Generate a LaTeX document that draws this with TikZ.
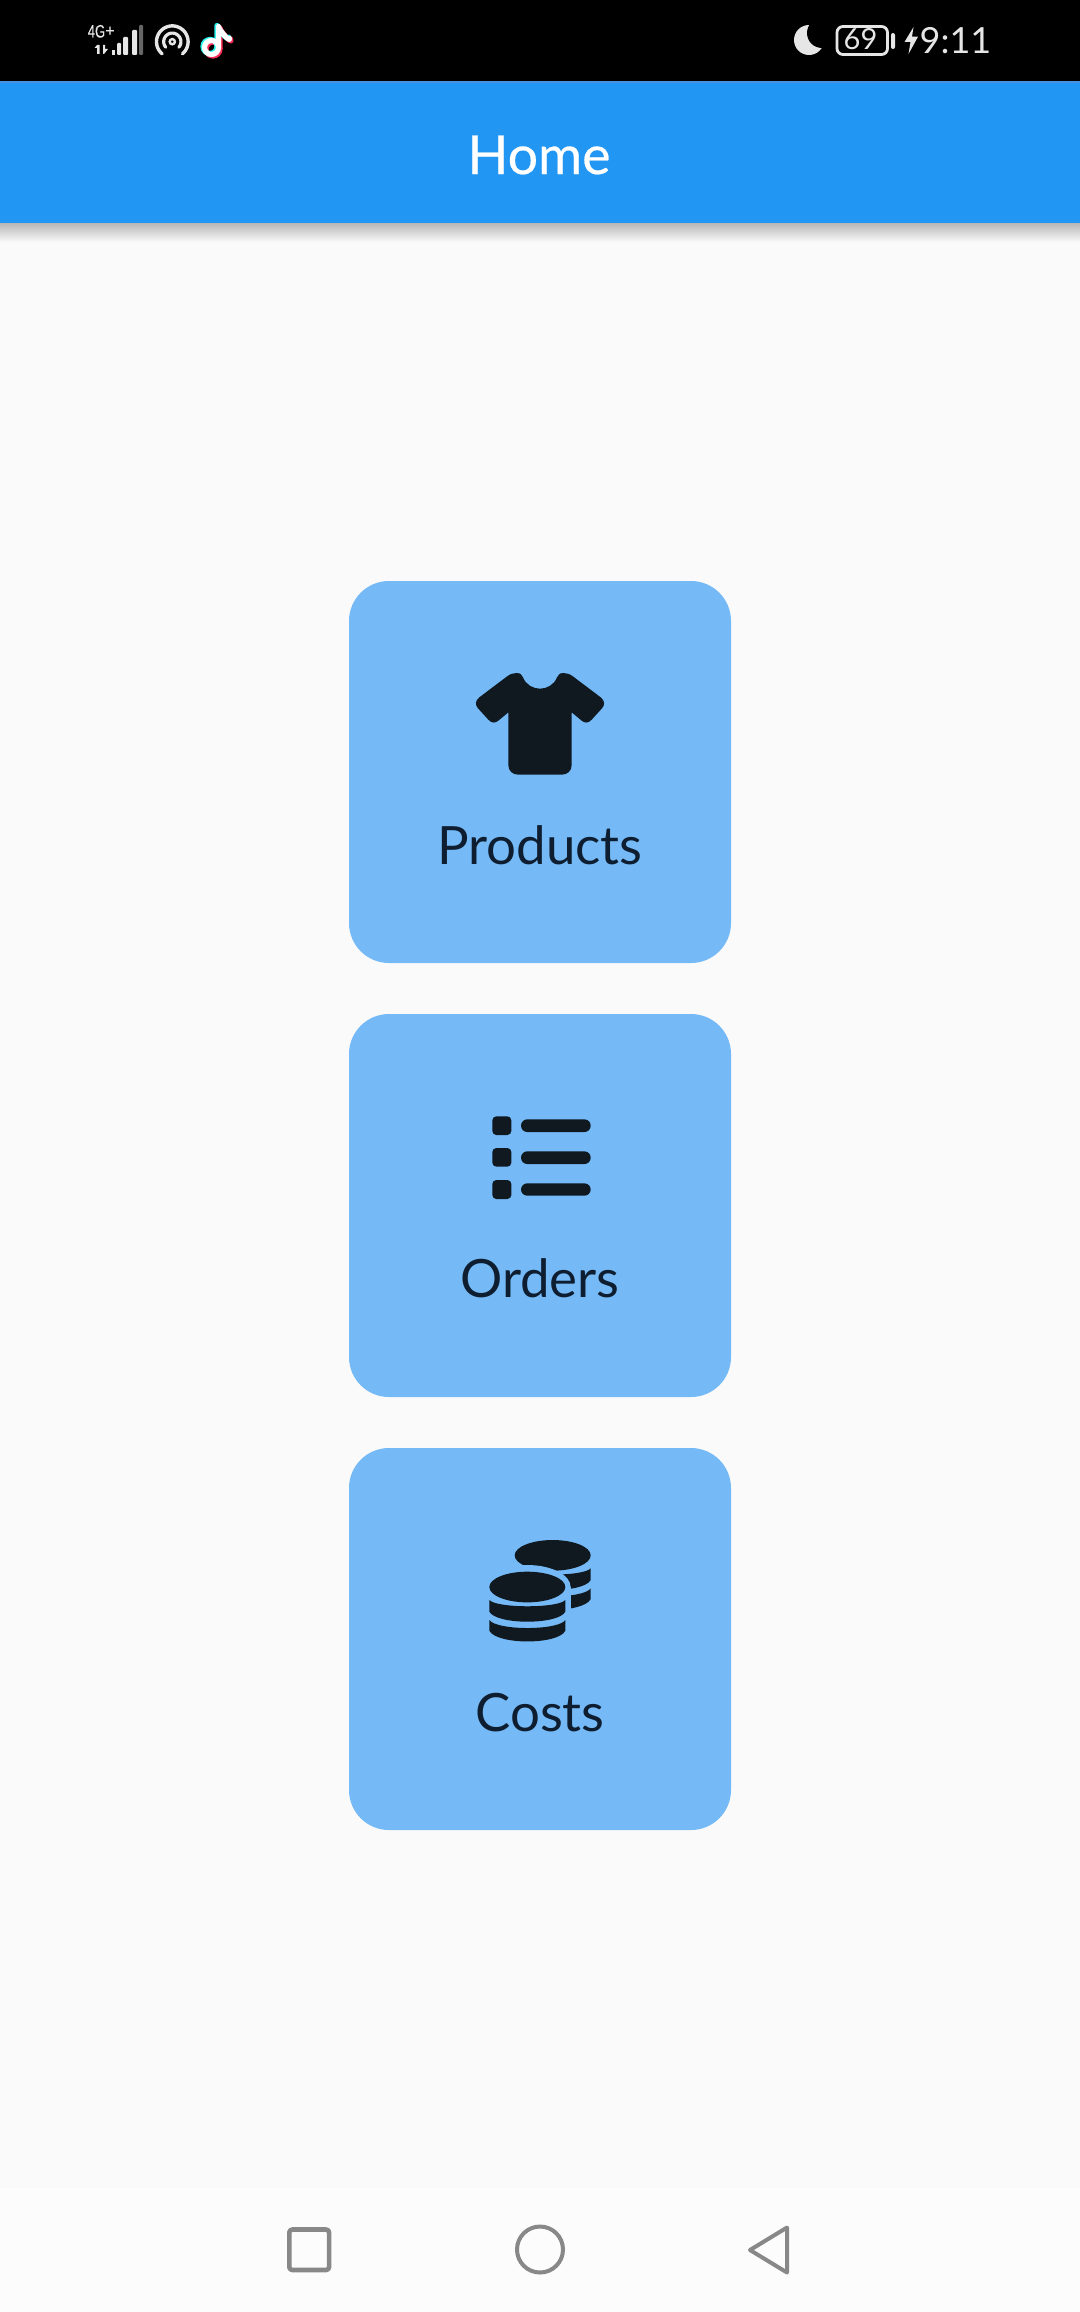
\documentclass[tikz,border=0pt]{standalone}
\usepackage{fontspec}
\setmainfont{Lato}
\newfontfamily\titlefont[FakeBold=0.45]{Lato}
\newfontfamily\statusfont{Lato}
\newfontfamily\tinyfont[FakeBold=0.5]{Liberation Sans}
\definecolor{appblue}{HTML}{2196F3}
\definecolor{appedge}{HTML}{4A90E2}
\definecolor{cardblue}{HTML}{75BAF6}
\definecolor{pagebg}{HTML}{FAFAFA}
\definecolor{navbg}{HTML}{FCFCFC}
\definecolor{inkdark}{HTML}{101820}
\definecolor{labeldark}{HTML}{0E1E30}
\definecolor{statuswhite}{HTML}{E6E6E6}
\definecolor{navgray}{HTML}{888888}
\definecolor{ttred}{RGB}{254,44,85}
\definecolor{ttcyan}{RGB}{37,244,238}
\tikzset{
  cardbox/.style={fill=cardblue,rounded corners=20pt},
  cardlabel/.style={anchor=base,text=labeldark,inner sep=0pt,font=\fontsize{26.4}{30}\selectfont},
  icon/.style={fill=inkdark},
  navicon/.style={draw=navgray,line width=2pt,line join=round},
  zoomscope/.style={x=0.16667pt,y=-0.16667pt},
  statustext/.style={text=statuswhite,inner sep=0pt,anchor=base},
  notestroke/.style={line width=2.6pt,line join=round}
}
\newcommand{\coinstack}{%
  \fill[icon] (562,441) ellipse [x radius=114,y radius=46];
  \fill[icon] (448,480) .. controls (470,505) and (655,505) .. (676,480) -- (676,515) .. controls (655,555) and (470,555) .. (448,515) -- cycle;
  \fill[icon] (448,540) .. controls (470,572) and (655,572) .. (676,540) -- (676,572) .. controls (655,615) and (470,615) .. (448,572) -- cycle;
}
\newcommand{\notepath}[2]{%
  \draw[#1,notestroke] (#2) ++(-7,0) circle [radius=7];
  \draw[#1,notestroke] (#2) -- ++(0,-21) .. controls +(1,5) and +(5,9) .. +(10,10);
}
\begin{document}
\begin{tikzpicture}[x=0.5pt,y=-0.5pt]
\useasboundingbox (0,0) rectangle (1080,2312);
% backgrounds
\fill[pagebg] (0,0) rectangle (1080,2312);
\fill[navbg] (0,2188) rectangle (1080,2312);
\shade[top color=black!30,bottom color=pagebg] (0,222) rectangle (1080,242);
\fill[black] (0,0) rectangle (1080,81);
\fill[appblue] (0,81) rectangle (1080,223);
\fill[appedge] (0,81) rectangle (1080,83);
\node[anchor=base,text=white,inner sep=0pt,font=\titlefont\fontsize{26.8}{30}\selectfont] (title) at (539,174) {Home};

% status bar, left
\node[statustext,transform shape,xscale=.72,font=\tinyfont\fontsize{9}{10}\selectfont] (net) at (96.5,37.5) {4G};
\node[statustext,font=\tinyfont\fontsize{8}{9}\selectfont] (plus) at (110,36) {+};
\fill[statuswhite] (97,45) -- (94.5,48) -- (97,48) -- (97,54) -- (99.5,54) -- (99.5,45) -- cycle;
\fill[statuswhite] (103,45) -- (105,45) -- (105,49) -- (108,49) -- (104,54) -- (103,54) -- cycle;
\fill[statuswhite] (111.5,50.5) rectangle (115,55);
\fill[statuswhite,rounded corners=.5pt] (117,43) rectangle (121,55);
\fill[statuswhite,rounded corners=.5pt] (123,37) rectangle (128,55);
\fill[statuswhite,rounded corners=.5pt] (132,30) rectangle (137,55);
\fill[black!60,rounded corners=.5pt] (139,25) rectangle (143,55);
\draw[statuswhite,line width=1.7pt,line cap=round] plot[domain=-50:230,samples=40] ({172.3+15.8*cos(\x)},{41.7-15.8*sin(\x)});
\draw[statuswhite,line width=1.6pt,line cap=round] plot[domain=-40:220,samples=30] ({172.3+8.6*cos(\x)},{41.7-8.6*sin(\x)});
\draw[statuswhite,line width=1.2pt] (172.3,41.7) circle [radius=2.6];
% tiktok note
\notepath{ttred}{220,49}
\notepath{ttcyan}{217,46.5}
\notepath{white}{218.5,47.5}

% status bar, right
\fill[statuswhite] (809,40) circle [radius=15];
\fill[black] (822,33) circle [radius=15];
\draw[statuswhite,line width=1.4pt,rounded corners=3pt] (837,26.5) rectangle (887.5,54.5);
\fill[statuswhite,rounded corners=1pt] (891,33) rectangle (895,49);
\node[statustext,font=\statusfont\fontsize{14.5}{16}\selectfont] (battery) at (860.5,50) {69};
\fill[statuswhite] (913.5,27) -- (904.5,42) -- (910.5,42) -- (908.5,54) -- (918,36.7) -- (912,36.7) -- cycle;
\node[statustext,font=\statusfont\fontsize{18}{20}\selectfont] (clock) at (955.5,54) {9:11};

% cards
\fill[cardbox] (349,581) rectangle (731,963);
\fill[cardbox] (349,1014) rectangle (731,1397);
\fill[cardbox] (349,1448) rectangle (731,1830);
\node[cardlabel] (products) at (540,864) {Products};
\node[cardlabel] (orders) at (540,1297) {Orders};
\node[cardlabel] (costs) at (540,1731) {Costs};

% shirt icon
\begin{scope}[shift={(340,570)},zoomscope]
\fill[icon] (530,309) .. controls (542,309) and (545,315) .. (549,322)
  .. controls (558,345) and (580,356) .. (600,356)
  .. controls (620,356) and (642,345) .. (651,322)
  .. controls (655,315) and (658,309) .. (670,309)
  .. controls (680,309) and (690,312) .. (700,320)
  -- (782,382) .. controls (795,392) and (795,405) .. (786,415)
  -- (755,449) .. controls (745,460) and (735,460) .. (725,452)
  -- (695,427) -- (695,585) .. controls (695,603) and (682,614) .. (665,614)
  -- (535,614) .. controls (518,614) and (505,603) .. (505,585)
  -- (505,427) -- (475,452) .. controls (465,460) and (455,460) .. (445,449)
  -- (414,415) .. controls (405,405) and (405,392) .. (418,382)
  -- (500,320) .. controls (510,312) and (520,309) .. (530,309) -- cycle;
\end{scope}

% list icon
\begin{scope}[shift={(340,1010)},zoomscope]
\fill[icon,rounded corners=2pt] (457,319) rectangle (514,375);
\fill[icon,rounded corners=2pt] (457,414) rectangle (514,470);
\fill[icon,rounded corners=2pt] (457,510) rectangle (514,567);
\fill[icon,rounded corners=3.1pt] (543,328) rectangle (752,366);
\fill[icon,rounded corners=3.1pt] (543,424) rectangle (752,462);
\fill[icon,rounded corners=3.1pt] (543,520) rectangle (752,557);
\end{scope}

% coins icon
\begin{scope}[shift={(340,1440)},zoomscope]
\begin{scope}[shift={(76,-95)}]
\coinstack
\end{scope}
\fill[cardblue] (562,441) ellipse [x radius=130,y radius=66];
\fill[cardblue] (432,441) rectangle (692,620);
\coinstack
\end{scope}

% navigation bar
\draw[navicon,line width=2.3pt,rounded corners=1.5pt] (289.3,2229.5) rectangle (329.1,2270);
\draw[navicon] (540,2249.5) ellipse [x radius=23,y radius=23];
\draw[navicon] (750,2250) -- (787,2227.5) -- (787,2272.5) -- cycle;
\end{tikzpicture}
\end{document}
